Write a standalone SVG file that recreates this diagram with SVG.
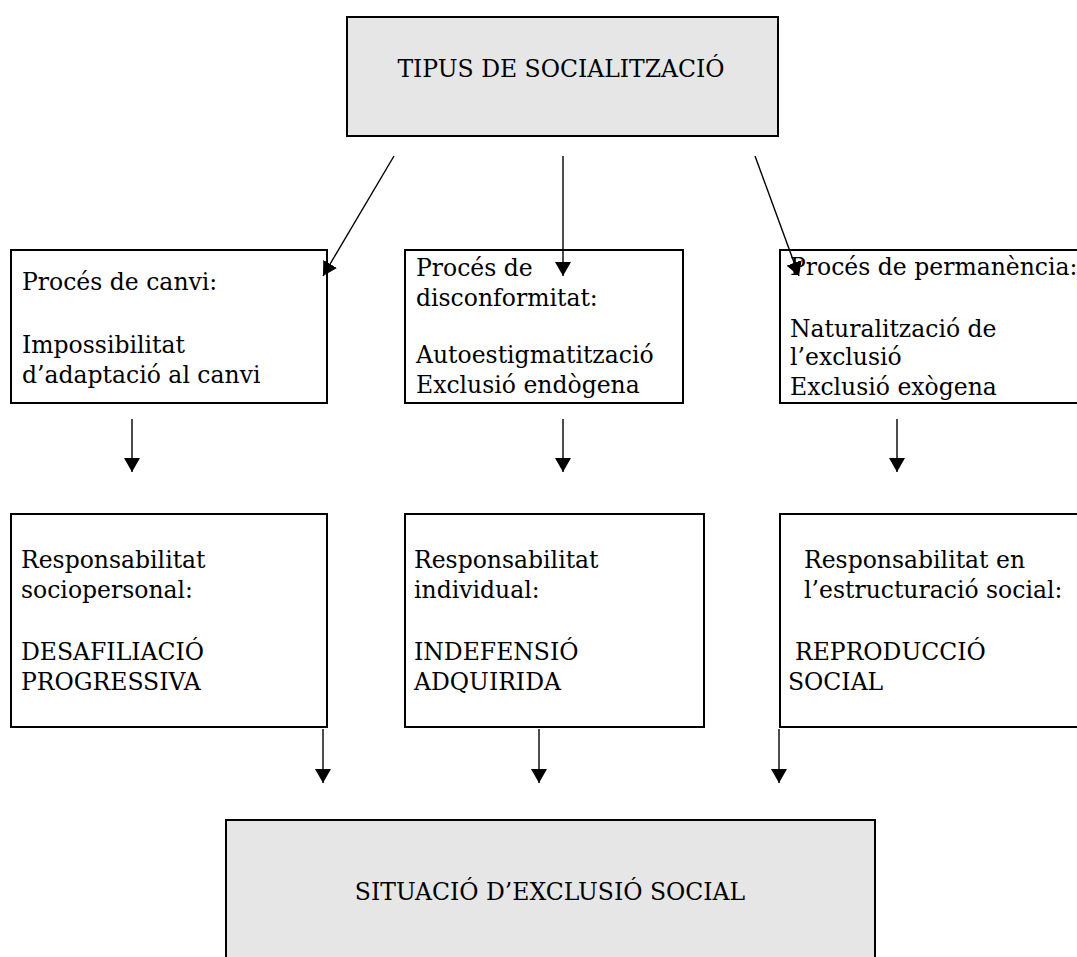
<svg xmlns="http://www.w3.org/2000/svg" width="1077" height="957" viewBox="0 0 1077 957">
  <style>
    .box { fill: #ffffff; stroke: #000000; stroke-width: 2; }
    .grey { fill: #e6e6e6; }
    .conn { stroke: #000000; stroke-width: 1.4; fill: none; }
    text { font-family: "DejaVu Serif", "Liberation Serif", serif; font-size: 23.5px; fill: #000000; }
    .mid { text-anchor: middle; }
  </style>
  <defs>
    <marker id="arrow" viewBox="0 0 14 16" refX="14" refY="8" markerWidth="14" markerHeight="16" markerUnits="userSpaceOnUse" orient="auto">
      <path d="M0,0 L14,8 L0,16 z" fill="#000000"/>
    </marker>
  </defs>
  <rect width="1077" height="957" fill="#ffffff"/>

  <g id="tipus">
    <rect class="box grey" x="347" y="17" width="431" height="119"/>
    <text class="mid" x="561" y="77">TIPUS DE SOCIALITZACIÓ</text>
  </g>

  <g id="proces-canvi">
    <rect class="box" x="11" y="250" width="316" height="153"/>
    <text x="22" y="290">Procés de canvi:</text>
    <text x="22" y="353">Impossibilitat</text>
    <text x="22" y="383">d’adaptació al canvi</text>
  </g>

  <g id="proces-disconformitat">
    <rect class="box" x="405" y="250" width="278" height="153"/>
    <text x="416" y="276">Procés de</text>
    <text x="416" y="306">disconformitat:</text>
    <text x="416" y="363">Autoestigmatització</text>
    <text x="416" y="393">Exclusió endògena</text>
  </g>

  <g id="proces-permanencia">
    <rect class="box" x="780" y="250" width="310" height="153"/>
    <text x="790" y="275">Procés de permanència:</text>
    <text x="790" y="337">Naturalització de</text>
    <text x="790" y="365">l’exclusió</text>
    <text x="790" y="395">Exclusió exògena</text>
  </g>

  <g id="desafiliacio">
    <rect class="box" x="11" y="514" width="316" height="213"/>
    <text x="21" y="568">Responsabilitat</text>
    <text x="21" y="598">sociopersonal:</text>
    <text x="21" y="660">DESAFILIACIÓ</text>
    <text x="21" y="690">PROGRESSIVA</text>
  </g>

  <g id="indefensio">
    <rect class="box" x="405" y="514" width="299" height="213"/>
    <text x="414" y="568">Responsabilitat</text>
    <text x="414" y="598">individual:</text>
    <text x="414" y="660">INDEFENSIÓ</text>
    <text x="414" y="690">ADQUIRIDA</text>
  </g>

  <g id="reproduccio">
    <rect class="box" x="780" y="514" width="310" height="213"/>
    <text x="804" y="568">Responsabilitat en</text>
    <text x="804" y="598">l’estructuració social:</text>
    <text x="795" y="660">REPRODUCCIÓ</text>
    <text x="788" y="690">SOCIAL</text>
  </g>

  <g id="exclusio-social">
    <rect class="box grey" x="226" y="820" width="649" height="150"/>
    <text class="mid" x="550" y="900">SITUACIÓ D’EXCLUSIÓ SOCIAL</text>
  </g>

  <g id="connectors">
    <line class="conn" x1="394" y1="156" x2="323" y2="276" marker-end="url(#arrow)"/>
    <line class="conn" x1="563" y1="156" x2="563" y2="276" marker-end="url(#arrow)"/>
    <line class="conn" x1="755" y1="156" x2="799" y2="276" marker-end="url(#arrow)"/>
    <line class="conn" x1="132" y1="419" x2="132" y2="472" marker-end="url(#arrow)"/>
    <line class="conn" x1="563" y1="419" x2="563" y2="472" marker-end="url(#arrow)"/>
    <line class="conn" x1="897" y1="419" x2="897" y2="472" marker-end="url(#arrow)"/>
    <line class="conn" x1="323" y1="729" x2="323" y2="783" marker-end="url(#arrow)"/>
    <line class="conn" x1="539" y1="729" x2="539" y2="783" marker-end="url(#arrow)"/>
    <line class="conn" x1="779" y1="729" x2="779" y2="783" marker-end="url(#arrow)"/>
  </g>
</svg>
